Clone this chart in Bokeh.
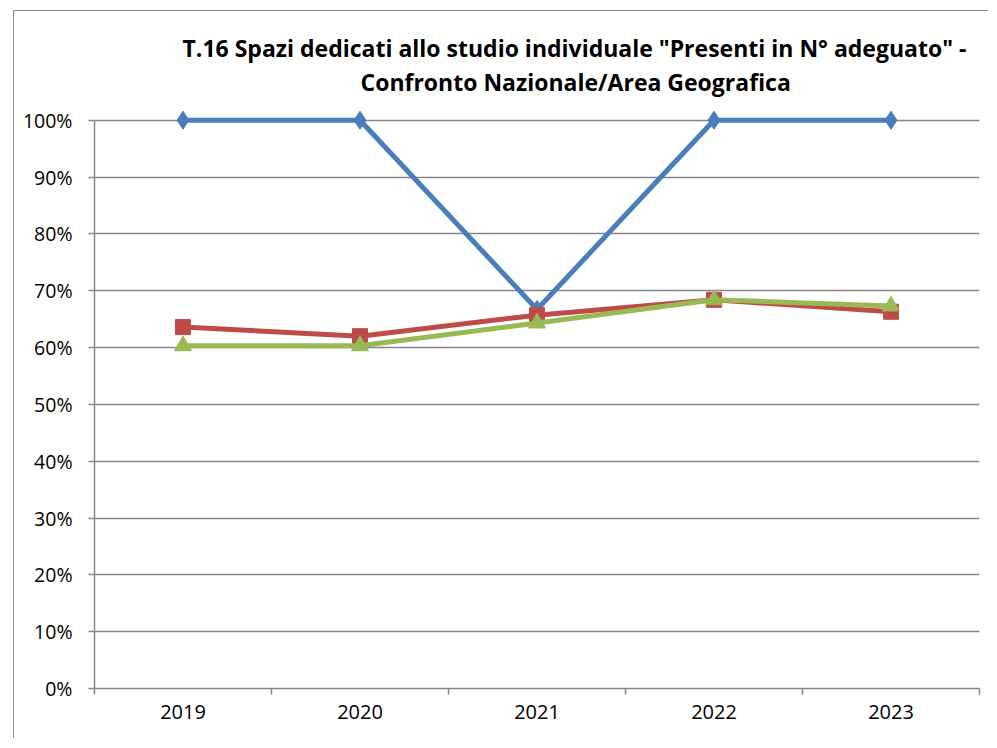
from bokeh.plotting import figure
from bokeh.models import FixedTicker, NumeralTickFormatter, Range1d, Title
from bokeh.embed import file_html
from bokeh.resources import INLINE

categories = ["2019", "2020", "2021", "2022", "2023"]
serie_blu = [1.00, 1.00, 0.667, 1.00, 1.00]
serie_rossa = [0.636, 0.620, 0.657, 0.684, 0.663]
serie_verde = [0.603, 0.603, 0.643, 0.684, 0.673]
y_ticks = [i / 10 for i in range(11)]
title_line1 = 'T.16 Spazi dedicati allo studio individuale "Presenti in N° adeguato" -'
title_line2 = 'Confronto Nazionale/Area Geografica'

xs = [i + 0.5 for i in range(len(categories))]

FONT = "Open Sans"

p = figure(width=975, height=728, output_backend="svg", toolbar_location=None,
           x_range=Range1d(0, len(categories)), y_range=Range1d(0, 1.04),
           min_border_left=80, min_border_right=10, min_border_top=86, min_border_bottom=51)
p.margin = (10, 0, 0, 13)
p.styles = {"border-left": "1px solid #8c8c8c", "border-top": "1px solid #8c8c8c"}
p.outline_line_color = None
p.background_fill_color = "white"

def style_title(t, offset):
    t.align = "left"
    t.offset = offset
    t.text_font = FONT
    t.text_font_style = "bold"
    t.text_font_size = "23px"
    t.text_color = "black"
    t.standoff = 0

# p.title is the outer line, the added Title sits next to the plot
p.title.text = title_line1
style_title(p.title, 88)
t2 = Title(text=title_line2)
style_title(t2, 266)
p.add_layout(t2, "above")

# y axis
p.yaxis.ticker = FixedTicker(ticks=y_ticks)
p.yaxis.bounds = (0, 1)
p.yaxis.formatter = NumeralTickFormatter(format="0%")
p.yaxis.axis_line_color = "#868686"
p.yaxis.axis_line_width = 1.5
p.yaxis.major_tick_line_color = "#868686"
p.yaxis.major_tick_line_width = 1.5
p.yaxis.major_tick_out = 6
p.yaxis.major_tick_in = 0
p.yaxis.minor_tick_line_color = None
p.yaxis.major_label_text_font = FONT
p.yaxis.major_label_text_font_size = "19.5px"
p.yaxis.major_label_text_color = "black"
p.yaxis.major_label_standoff = 16

# x axis
p.xaxis.ticker = FixedTicker(ticks=xs, minor_ticks=list(range(len(categories) + 1)))
p.xaxis.major_label_overrides = {x: c for x, c in zip(xs, categories)}
p.xaxis.axis_line_color = "#868686"
p.xaxis.axis_line_width = 1.5
p.xaxis.major_tick_line_color = None
p.xaxis.minor_tick_line_color = "#868686"
p.xaxis.minor_tick_line_width = 1.5
p.xaxis.minor_tick_out = 6
p.xaxis.minor_tick_in = 0
p.xaxis.major_label_text_font = FONT
p.xaxis.major_label_text_font_size = "20px"
p.xaxis.major_label_text_color = "black"
p.xaxis.major_label_standoff = 10

p.xgrid.grid_line_color = None
p.ygrid.ticker = FixedTicker(ticks=y_ticks[1:])
p.ygrid.grid_line_color = "#868686"
p.ygrid.grid_line_width = 1.5

blue, red, green = "#4A7EBB", "#BE4B48", "#98B954"

p.line(xs, serie_blu, line_color=blue, line_width=5)
p.scatter(xs, serie_blu, marker="diamond", size=18, fill_color=blue, line_color=blue)
p.line(xs, serie_rossa, line_color=red, line_width=5)
p.scatter(xs, serie_rossa, marker="square", size=15, fill_color=red, line_color=red)
p.line(xs, serie_verde, line_color=green, line_width=5)
p.scatter(xs, serie_verde, marker="triangle", size=17, fill_color=green, line_color=green)

open("out.html", "w").write(file_html(p, INLINE))
